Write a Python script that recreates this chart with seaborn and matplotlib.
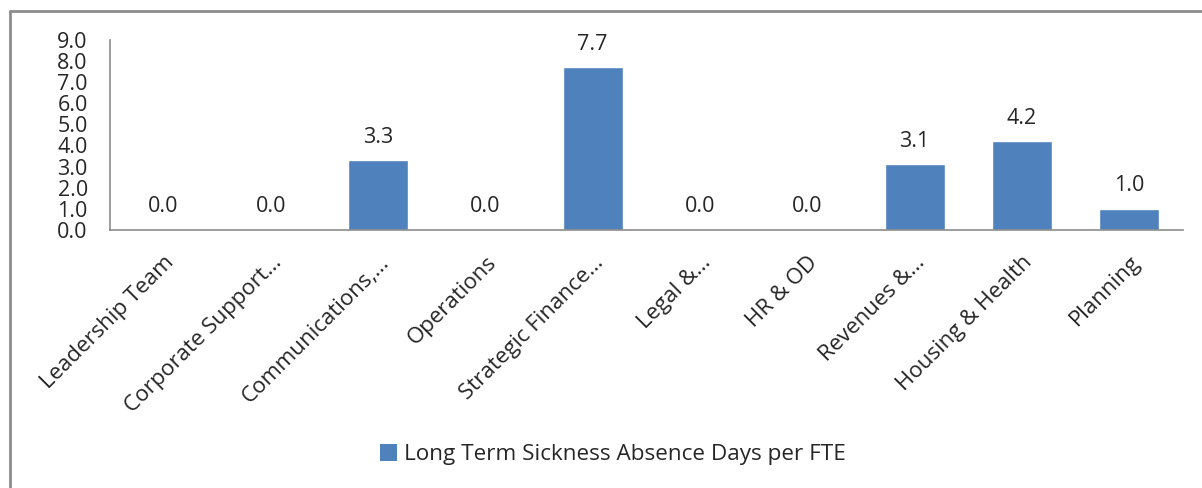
import pandas as pd
import seaborn as sns
import matplotlib.pyplot as plt
from matplotlib.patches import Patch
from matplotlib.lines import Line2D

departments = ['Leadership Team', 'Corporate Support…', 'Communications,…', 'Operations',
               'Strategic Finance…', 'Legal &…', 'HR & OD', 'Revenues &…',
               'Housing & Health', 'Planning']
days_per_fte = [0.0, 0.0, 3.3, 0.0, 7.7, 0.0, 0.0, 3.1, 4.2, 1.0]
series_name = 'Long Term Sickness Absence Days per FTE'

df = pd.DataFrame({'department': departments, 'days': days_per_fte})

sns.set_style('white')
plt.rcParams['font.family'] = ['Open Sans', 'DejaVu Sans']

fig = plt.figure(figsize=(12.02, 4.88), dpi=100)
ax = fig.add_axes([0.0915, 0.529, 0.8925, 0.389])

bar_color = '#4F81BD'
sns.barplot(data=df, x='department', y='days', color=bar_color, width=0.56,
            saturation=1, ax=ax)

for i, v in enumerate(days_per_fte):
    ax.annotate(f'{v:.1f}', (i, v), xytext=(0, 9), textcoords='offset points',
                ha='center', va='bottom', fontsize=15.5)

ax.set_ylim(0, 9)
ax.set_yticks(range(0, 10))
ax.set_yticklabels([f'{t:.1f}' for t in range(0, 10)], fontsize=15.5)
ax.tick_params(axis='y', pad=16, length=0)
ax.set_xlim(-0.5, len(departments) - 0.5)
ax.set_xticks(range(len(departments)))
ax.set_xticklabels(departments, rotation=45, ha='right', rotation_mode='anchor',
                   fontsize=16)
ax.tick_params(axis='x', length=0, pad=16)
ax.set_xlabel('')
ax.set_ylabel('')

for side in ['top', 'right']:
    ax.spines[side].set_visible(False)
for side in ['left', 'bottom']:
    ax.spines[side].set_color('#8c8c8c')
    ax.spines[side].set_linewidth(1.2)

handle = Patch(facecolor=bar_color, edgecolor='none')
fig.legend([handle], [series_name], loc='center', bbox_to_anchor=(0.51, 0.068),
           frameon=False, fontsize=16.2, handlelength=0.75, handleheight=0.75,
           handletextpad=0.3)

# Chart border: only the top and left edges fall inside the image
bx, by = 10.5 / 1202, 1 - 10.5 / 488
fig.add_artist(Line2D([bx, 1.0], [by, by], transform=fig.transFigure,
                      color='#8c8c8c', linewidth=2))
fig.add_artist(Line2D([bx, bx], [0.0, by], transform=fig.transFigure,
                      color='#8c8c8c', linewidth=2))

plt.savefig('out.png', dpi=100)
